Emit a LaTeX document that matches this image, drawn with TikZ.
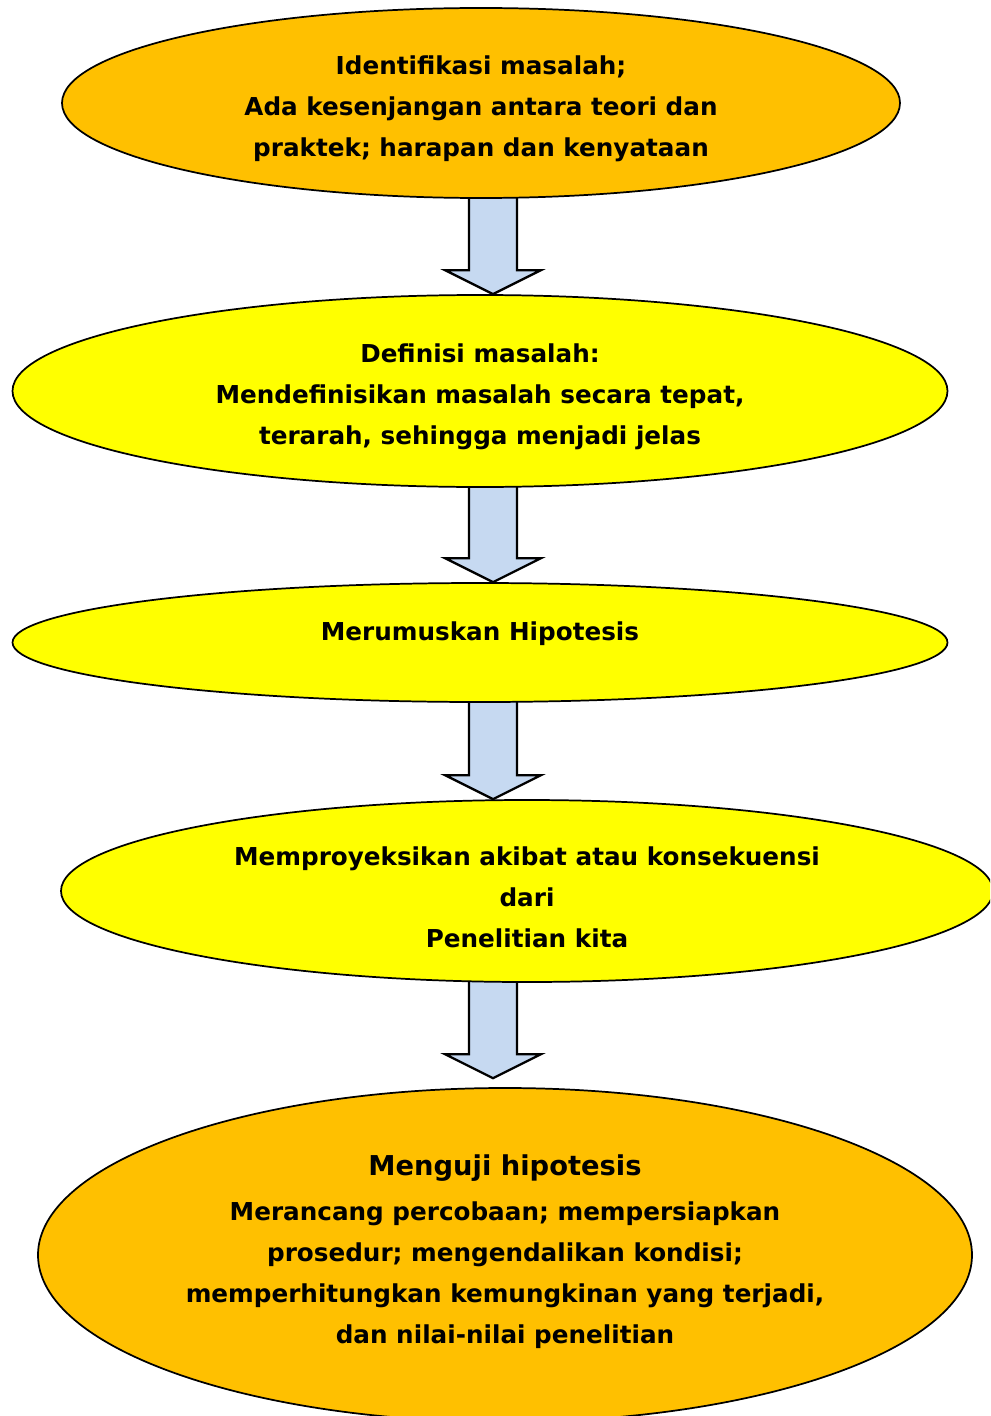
\documentclass[tikz,border=0pt]{standalone}
\usepackage{fontspec}
\setmainfont{DejaVu Sans}
\usetikzlibrary{shapes.geometric,calc}
\definecolor{orangeF}{HTML}{FFC000}
\definecolor{yellowF}{HTML}{FFFF00}
\definecolor{arrowF}{HTML}{C6D9F1}
\pgfdeclarelayer{background}
\pgfsetlayers{background,main}
\newcommand\firstline[1]{\rule{0pt}{#1}}
\tikzset{
  stage/.style={ellipse, draw=black, line width=1.3pt, inner sep=0pt, align=center,
    font=\bfseries\fontsize{18.5}{30.75}\selectfont},
  blockarrow/.style={draw=black, line width=1.7pt, fill=arrowF, line join=miter}
}
\begin{document}
\begin{tikzpicture}[x=0.75pt,y=-0.75pt]
\useasboundingbox (0,0) rectangle (990,1416);
\clip (0,0) rectangle (990,1416);
\coordinate (ax) at (493,0);
\node[stage, fill=orangeF, minimum width=628.5pt, minimum height=142.5pt] (e1) at (481,103)
  {\firstline{22pt}Identifikasi masalah;\\Ada kesenjangan antara teori dan\\praktek; harapan dan kenyataan};
\node[stage, fill=yellowF, minimum width=701.25pt, minimum height=144pt] (e2) at (480,391)
  {\firstline{22pt}Definisi masalah:\\Mendefinisikan masalah secara tepat,\\terarah, sehingga menjadi jelas};
\node[stage, fill=yellowF, minimum width=701.25pt, minimum height=89.25pt,
  text height=14pt, text depth=17pt] (e3) at (480,642.5)
  {Merumuskan Hipotesis};
\node[stage, fill=yellowF, minimum width=699pt, minimum height=136.5pt] (e4) at (527,891)
  {\firstline{23pt}Memproyeksikan akibat atau konsekuensi\\dari\\Penelitian kita};
\node[stage, fill=orangeF, minimum width=700.5pt, minimum height=250.5pt] (e5) at (505,1255)
  {{\fontsize{20.5}{33}\selectfont Menguji hipotesis}\\[3pt]Merancang percobaan; mempersiapkan\\prosedur; mengendalikan kondisi;\\memperhitungkan kemungkinan yang terjadi,\\dan nilai-nilai penelitian\rule[-9pt]{0pt}{0pt}};
\begin{pgfonlayer}{background}
\foreach \a/\b/\g in {e1/e2/0,e2/e3/0,e3/e4/0,e4/e5/9}{
  \draw[blockarrow]
    ($(\a.south -| ax)+(-24,-4)$) -- ($(\b.north -| ax)+(-24,-24-\g)$)
    -- ($(\b.north -| ax)+(-48,-24-\g)$) -- ($(\b.north -| ax)+(0,-\g)$)
    -- ($(\b.north -| ax)+(48,-24-\g)$) -- ($(\b.north -| ax)+(24,-24-\g)$)
    -- ($(\a.south -| ax)+(24,-4)$) -- cycle;
}
\end{pgfonlayer}
\end{tikzpicture}
\end{document}
